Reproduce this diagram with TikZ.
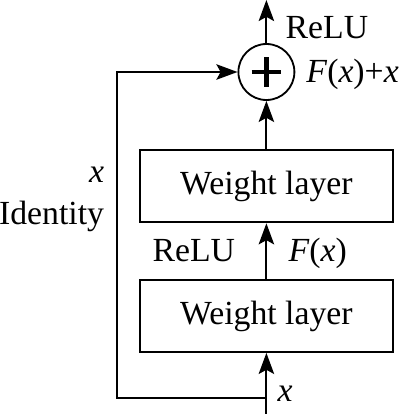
\documentclass[tikz,border=0pt]{standalone}
\usepackage{fontspec}
\setmainfont{Liberation Serif}
\usetikzlibrary{arrows.meta, positioning, calc}

\begin{document}
\begin{tikzpicture}[
    font=\fontsize{24}{29}\selectfont,
    block/.style={
        rectangle,
        draw,
        line width=1.3pt,
        minimum width=6.33cm,
        minimum height=1.8cm,
        inner sep=0pt
    },
    sum/.style={
        circle,
        draw,
        line width=1.3pt,
        minimum size=1.4cm,
        inner sep=0pt,
        path picture={
            \draw[line width=3.4pt]
                ($(path picture bounding box.center)+(-0.37,0)$) -- ++(0.74,0)
                ($(path picture bounding box.center)+(0,-0.37)$) -- ++(0,0.74);
        }
    },
    tag/.style={
        inner sep=0pt,
        yshift=-0.17cm
    },
    arrow/.style={
        -{Stealth[length=15pt, width=11pt, inset=3pt]},
        line width=1.3pt
    }
]
\useasboundingbox (0,0) rectangle (10,10.35);

\node[block] (w1) at (6.66,2.45) {Weight layer};
\node[block] (w2) at (6.66,5.69) {Weight layer};
\node[sum] (add) at (6.66,8.55) {};

\coordinate (input) at (6.66,0);
\coordinate (output) at (6.66,10.35);
\coordinate (split) at (6.66,0.4);
\coordinate (corner) at (2.925,0.4);

\draw[arrow] (input) -- node[tag, anchor=mid west, xshift=0.26cm, pos=0.365] {\textit{x}} (w1);
\draw[arrow] (w1) -- node[tag, anchor=mid east, xshift=-0.76cm] {ReLU}
                     node[tag, anchor=mid west, xshift=0.53cm] {\textit{F}(\textit{x})} (w2);
\draw[arrow] (w2) -- (add);
\draw[arrow] (add) -- node[tag, anchor=mid west, xshift=0.46cm, pos=0.34] {ReLU} (output);
\draw[arrow] (split) -- (corner)
    |- node[tag, anchor=mid east, xshift=-0.3cm, pos=0.346] {\textit{x}}
       node[tag, anchor=mid east, xshift=-0.3cm, pos=0.2816] {Identity} (add);

\node[tag, anchor=mid west, xshift=0.27cm] (sumlabel) at (add.east) {\textit{F}(\textit{x})+\textit{x}};

\end{tikzpicture}
\end{document}
